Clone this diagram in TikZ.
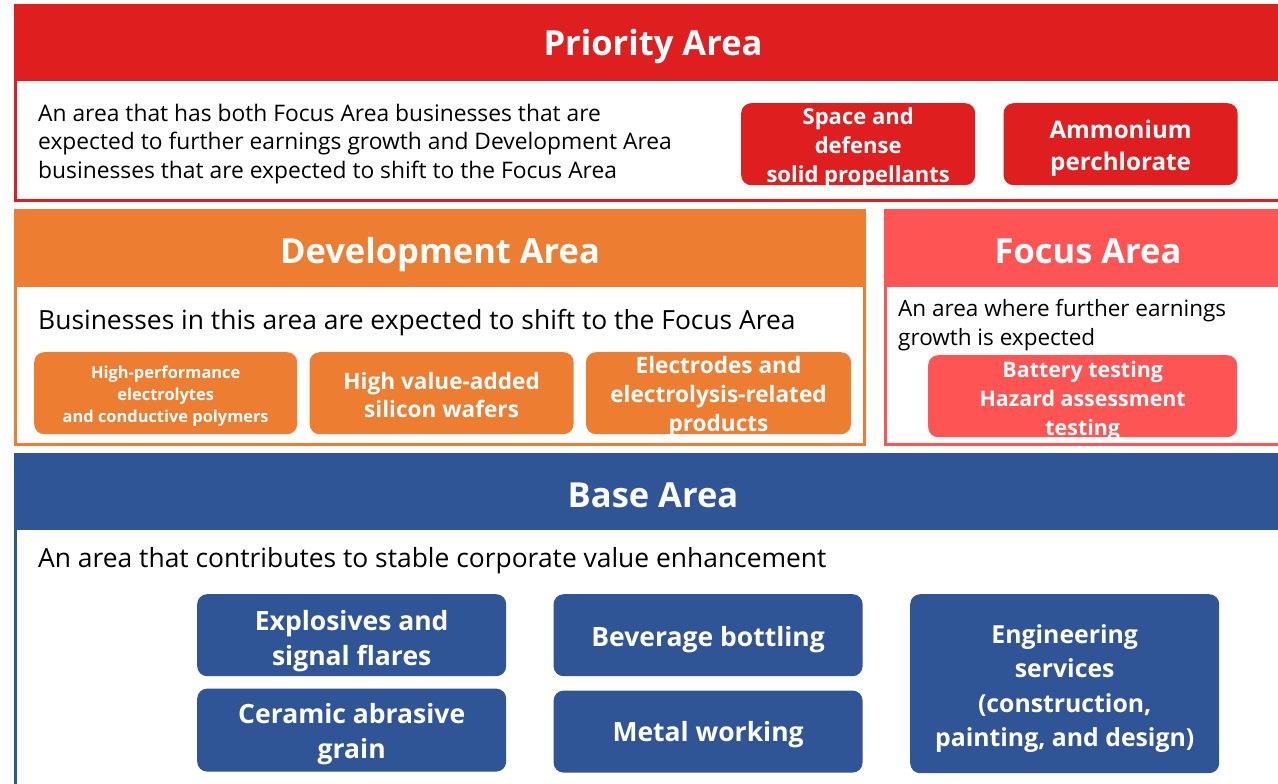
\documentclass[tikz,border=0pt]{standalone}
\usepackage{fontspec}
\setmainfont{Open Sans}
\usepackage{tikz}
\usetikzlibrary{positioning}
\definecolor{priority}{RGB}{223,31,31}
\definecolor{development}{RGB}{237,125,49}
\definecolor{focus}{RGB}{255,84,84}
\definecolor{base}{RGB}{47,85,151}

\begin{document}
\begin{tikzpicture}[x=1pt, y=-1pt, node distance=12pt]
    % Define styles
    \tikzstyle{frame} = [rectangle, draw, line width=3pt, fill=white,
        anchor=north west, inner sep=0pt, outer sep=0pt]
    \tikzstyle{header} = [rectangle, anchor=north west, inner sep=0pt,
        outer sep=0pt, minimum height=77pt]
    \tikzstyle{title} = [text=white, yshift=-4pt,
        font=\fontsize{34.5}{40}\selectfont\bfseries]
    \tikzstyle{desc} = [anchor=west, align=left, inner sep=0pt]
    \tikzstyle{item} = [rectangle, rounded corners=10pt, inner sep=0pt,
        minimum height=82pt, anchor=north west]
    \tikzstyle{itemtext} = [text=white, align=center, inner sep=0pt, yshift=-4pt]

    \clip (0,0) rectangle (1278,784);

    % Priority Area
    \node [frame, draw=priority, minimum width=1276pt, minimum height=195pt] (priority) at (15.5,5.5) {};
    \node [header, fill=priority, minimum width=1278pt] (priority_head) at (14,4) {};
    \node [title] (priority_title) at (priority_head) {Priority Area};
    \node [desc, font=\fontsize{22.8}{28.5}\selectfont] (priority_text) at (38,144)
        {An area that has both Focus Area businesses that are\\
         expected to further earnings growth and Development Area\\
         businesses that are expected to shift to the Focus Area};
    \node [item, fill=priority, minimum width=234pt] (propellants) at (741,103) {};
    \node [item, fill=priority, minimum width=234pt, right=28pt of propellants] (perchlorate) {};
    \node [itemtext, font=\fontsize{22}{29}\selectfont\bfseries] (propellants_text) at (propellants)
        {Space and\\defense\\solid propellants};
    \node [itemtext, font=\fontsize{24.2}{32}\selectfont\bfseries] (perchlorate_text) at (perchlorate)
        {Ammonium\\perchlorate};

    % Development Area
    \node [frame, draw=development, minimum width=849pt, minimum height=234pt] (development) at (15.5,210.5) {};
    \node [header, fill=development, minimum width=852pt, minimum height=78pt] (development_head) at (14,209) {};
    \node [title, yshift=-3pt] (development_title) at (development_head) {Development Area};
    \node [desc, font=\fontsize{26.4}{30}\selectfont] (development_text) at (38,323)
        {Businesses in this area are expected to shift to the Focus Area};
    \node [item, fill=development, minimum width=263pt] (electrolytes) at (34,352) {};
    \node [item, fill=development, minimum width=264pt, right=of electrolytes] (wafers) {};
    \node [item, fill=development, minimum width=265pt, right=of wafers] (electrodes) {};
    \node [itemtext, font=\fontsize{16.4}{22}\selectfont\bfseries, yshift=1pt] (electrolytes_text) at (electrolytes)
        {High-performance\\electrolytes\\and conductive polymers};
    \node [itemtext, font=\fontsize{22.6}{28}\selectfont\bfseries, yshift=2pt] (wafers_text) at (wafers)
        {High value-added\\silicon wafers};
    \node [itemtext, font=\fontsize{22.6}{29}\selectfont\bfseries, yshift=1pt] (electrodes_text) at (electrodes)
        {Electrodes and\\electrolysis-related\\products};

    % Focus Area
    \node [frame, draw=focus, minimum width=410pt, minimum height=234pt] (focus) at (885.5,210.5) {};
    \node [header, fill=focus, minimum width=408pt, minimum height=78pt] (focus_head) at (884,209) {};
    \node [title, yshift=1pt] (focus_title) at (focus_head) {Focus Area};
    \node [desc, font=\fontsize{22.5}{29}\selectfont] (focus_text) at (898,325.5)
        {An area where further earnings\\growth is expected};
    \node [item, fill=focus, minimum width=309pt] (battery) at (928,355) {};
    \node [itemtext, font=\fontsize{21.4}{29}\selectfont\bfseries, yshift=-1pt] (battery_text) at (battery)
        {Battery testing\\Hazard assessment\\testing};

    % Base Area
    \node [frame, draw=base, minimum width=1276pt, minimum height=400pt] (base) at (15.5,454.5) {};
    \node [header, fill=base, minimum width=1278pt] (base_head) at (14,453) {};
    \node [title] (base_title) at (base_head) {Base Area};
    \node [desc, font=\fontsize{26.4}{32}\selectfont] (base_text) at (38,561)
        {An area that contributes to stable corporate value enhancement};
    \node [item, fill=base, minimum width=309pt] (explosives) at (197,594) {};
    \node [item, fill=base, minimum width=309pt, minimum height=83pt, below=of explosives] (abrasive) {};
    \node [item, fill=base, minimum width=309pt, right=47pt of explosives] (bottling) {};
    \node [item, fill=base, minimum width=309pt, below=14pt of bottling] (metal) {};
    \node [item, fill=base, minimum width=309pt, minimum height=179pt] (engineering) at (910,594) {};
    \node [itemtext, font=\fontsize{26.5}{35}\selectfont\bfseries, yshift=-2pt] (explosives_text) at (explosives)
        {Explosives and\\signal flares};
    \node [itemtext, font=\fontsize{26.5}{35}\selectfont\bfseries] (abrasive_text) at (abrasive)
        {Ceramic abrasive\\grain};
    \node [itemtext, font=\fontsize{26.5}{35}\selectfont\bfseries] (bottling_text) at (bottling)
        {Beverage bottling};
    \node [itemtext, font=\fontsize{26.5}{35}\selectfont\bfseries, yshift=1pt] (metal_text) at (metal)
        {Metal working};
    \node [itemtext, font=\fontsize{24.8}{34.3}\selectfont\bfseries, yshift=-1pt] (engineering_text) at (engineering)
        {Engineering\\services\\(construction,\\painting, and design)};
\end{tikzpicture}
\end{document}
